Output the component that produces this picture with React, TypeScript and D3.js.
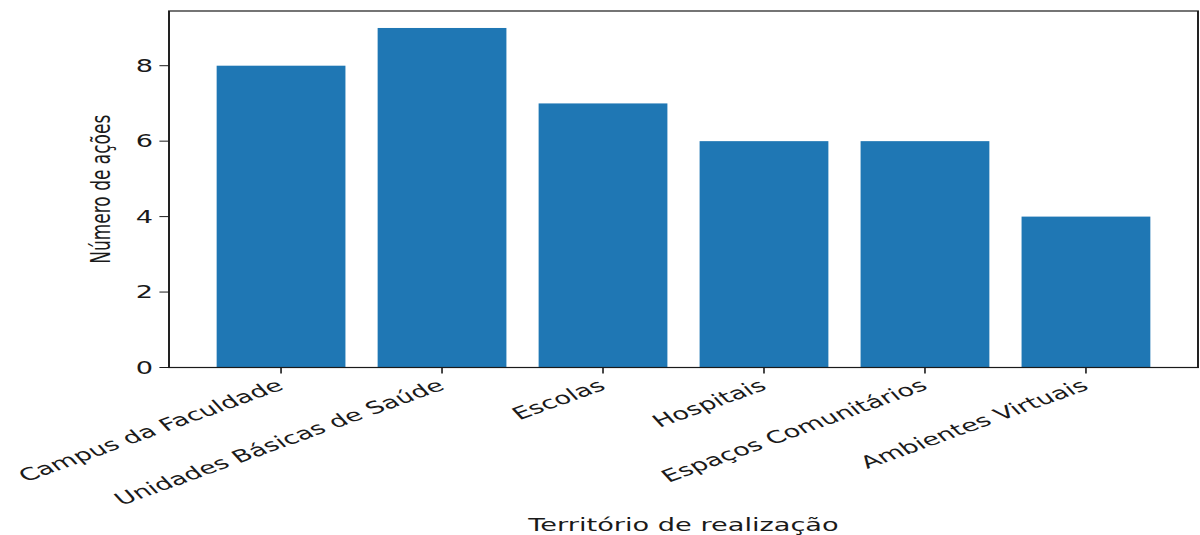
import React from 'react';
import * as d3 from 'd3';

// chart data
const categories = [
  'Campus da Faculdade',
  'Unidades Básicas de Saúde',
  'Escolas',
  'Hospitais',
  'Espaços Comunitários',
  'Ambientes Virtuais',
];
const values = [8, 9, 7, 6, 6, 4];
const yTicks = [0, 2, 4, 6, 8];
const xTitle = 'Território de realização';
const yTitle = 'Número de ações';

// the reference is a matplotlib figure stretched horizontally
const SX = 1.6;
const W = 1200, H = 535;
const left = 169 / SX, right = 1198 / SX, top = 11, bottom = 367.5;
const font = "'DejaVu Sans', sans-serif";
const fs = 17;

const App = () => {
  const x = d3.scaleBand()
    .domain(categories)
    .range([left, right])
    .paddingInner(0.2)
    .paddingOuter(0.296);
  const y = d3.scaleLinear().domain([0, 9.45]).range([bottom, top]);
  const tickLen = 6;

  return (
    <svg width={W} height={H} style={{ position: 'absolute', left: 0, top: 0 }}>
      <rect width={W} height={H} fill="white" />
      <g transform={`scale(${SX},1)`}>
        {categories.map((c, i) => (
          <rect key={c}
            x={x(c)}
            y={y(values[i])}
            width={x.bandwidth()}
            height={y(0) - y(values[i])}
            fill="#1f77b4" />
        ))}
        <rect x={left} y={top} width={right - left} height={bottom - top}
          fill="none" stroke="#1a1a1a" strokeWidth={1.2} />
        {yTicks.map(t => (
          <g key={t} transform={`translate(0,${y(t)})`}>
            <line x1={left - tickLen} x2={left} stroke="#1a1a1a" strokeWidth={1} />
            <text x={left - tickLen - 4} dy="0.36em" textAnchor="end"
              fontFamily={font} fontSize={fs} fill="#1a1a1a">{t}</text>
          </g>
        ))}
        {categories.map(c => {
          const cx = (x(c) ?? 0) + x.bandwidth() / 2;
          return (
            <g key={c}>
              <line x1={cx} x2={cx} y1={bottom} y2={bottom + tickLen} stroke="#1a1a1a" strokeWidth={1} />
              <text transform={`translate(${cx - 4},${bottom + tickLen + 4}) rotate(-30)`}
                dy="0.76em" textAnchor="end" fontFamily={font} fontSize={fs} fill="#1a1a1a">{c}</text>
            </g>
          );
        })}
        <text x={(left + right) / 2} y={531} textAnchor="middle"
          fontFamily={font} fontSize={fs} fill="#1a1a1a">{xTitle}</text>
        <text transform={`translate(69,${(top + bottom) / 2}) rotate(-90)`}
          textAnchor="middle" fontFamily={font} fontSize={fs} fill="#1a1a1a">{yTitle}</text>
      </g>
    </svg>
  );
};

export default App;
